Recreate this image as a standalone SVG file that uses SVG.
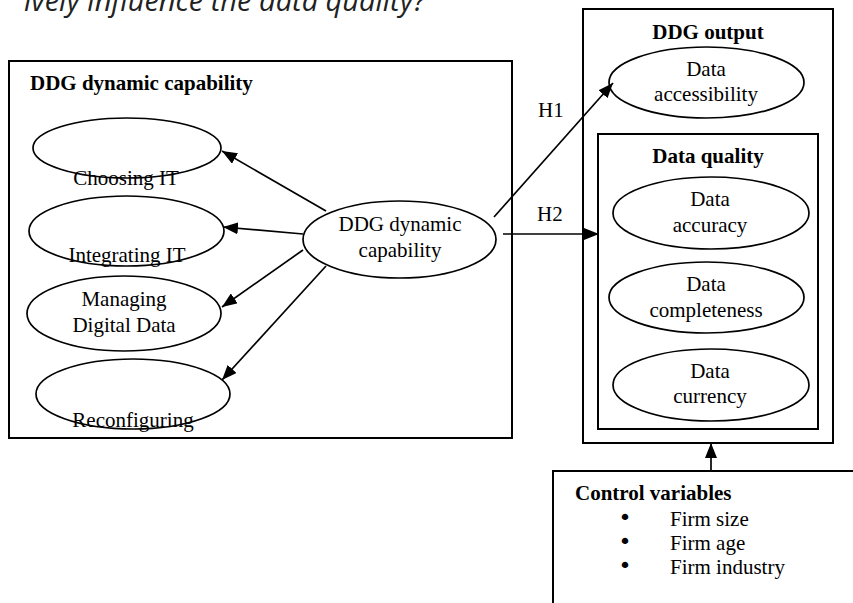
<svg xmlns="http://www.w3.org/2000/svg" width="853" height="603" viewBox="0 0 853 603">
<defs>
<marker id="arr" markerUnits="userSpaceOnUse" markerWidth="16" markerHeight="12" refX="15" refY="6" orient="auto">
<path d="M0,0 L15,6 L0,12 Z" fill="#000"/>
</marker>
<style>
.box{fill:none;stroke:#000;stroke-width:2}
.ell{fill:#fff;stroke:#000;stroke-width:1.7}
.t{font-family:"Liberation Serif","Times New Roman",serif;font-size:21px;fill:#000}
.b{font-weight:bold}
.c{text-anchor:middle}
.bul{font-family:"DejaVu Sans",sans-serif;font-size:22px;fill:#000}
.con{stroke:#000;stroke-width:1.7;fill:none;marker-end:url(#arr)}
</style>
</defs>
<rect width="853" height="603" fill="#fff"/>
<text x="24" y="11" style="font-family:'Open Sans','Noto Sans',sans-serif;font-style:italic;font-size:29px;fill:#222">ively influence the data quality?</text>

<g id="dyn-box">
<rect class="box" x="9" y="61" width="503" height="377"/>
<text class="t b" x="30" y="90">DDG dynamic capability</text>
</g>
<g id="choosing">
<ellipse class="ell" cx="127" cy="148" rx="94" ry="30"/>
<text class="t c" x="126" y="185">Choosing IT</text>
</g>
<g id="integrating">
<ellipse class="ell" cx="126.5" cy="231" rx="97.5" ry="35"/>
<text class="t c" x="127" y="262">Integrating IT</text>
</g>
<g id="managing">
<ellipse class="ell" cx="124" cy="313.5" rx="97" ry="37.5"/>
<text class="t c" x="124" y="306">Managing</text>
<text class="t c" x="124" y="332">Digital Data</text>
</g>
<g id="reconfiguring">
<ellipse class="ell" cx="133" cy="394" rx="97" ry="35"/>
<text class="t c" x="133" y="427">Reconfiguring</text>
</g>
<g id="ddg-center">
<ellipse class="ell" cx="399.5" cy="239.5" rx="96.5" ry="38.5"/>
<text class="t c" x="400" y="231">DDG dynamic</text>
<text class="t c" x="400" y="257">capability</text>
</g>

<g id="output-box">
<rect class="box" x="583" y="9" width="250" height="434"/>
<text class="t b c" x="708" y="39">DDG output</text>
</g>
<g id="accessibility">
<ellipse class="ell" cx="706.5" cy="82.5" rx="97.5" ry="35.5"/>
<text class="t c" x="706" y="76">Data</text>
<text class="t c" x="706" y="101">accessibility</text>
</g>
<g id="quality-box">
<rect class="box" x="598" y="134" width="220" height="295"/>
<text class="t b c" x="708" y="163">Data quality</text>
</g>
<g id="accuracy">
<ellipse class="ell" cx="711" cy="213" rx="98" ry="36"/>
<text class="t c" x="710" y="206">Data</text>
<text class="t c" x="710" y="232">accuracy</text>
</g>
<g id="completeness">
<ellipse class="ell" cx="706.5" cy="297.5" rx="97.5" ry="35.5"/>
<text class="t c" x="706" y="291">Data</text>
<text class="t c" x="706" y="317">completeness</text>
</g>
<g id="currency">
<ellipse class="ell" cx="711" cy="385" rx="98" ry="36"/>
<text class="t c" x="710" y="378">Data</text>
<text class="t c" x="710" y="403">currency</text>
</g>

<g id="control">
<rect class="box" x="553" y="471" width="320" height="150"/>
<text class="t b" x="575" y="500">Control variables</text>
<text class="bul c" x="625" y="525">•</text>
<text class="t" x="670" y="526">Firm size</text>
<text class="bul c" x="625" y="549">•</text>
<text class="t" x="670" y="550">Firm age</text>
<text class="bul c" x="625" y="573">•</text>
<text class="t" x="670" y="574">Firm industry</text>
</g>

<g id="connectors">
<line class="con" x1="326" y1="211" x2="222" y2="151"/>
<line class="con" x1="303" y1="234" x2="223" y2="227"/>
<line class="con" x1="303" y1="250" x2="222" y2="307"/>
<line class="con" x1="326" y1="266" x2="222" y2="380"/>
<line class="con" x1="494" y1="217" x2="613" y2="83"/>
<line class="con" x1="503" y1="234" x2="599" y2="234"/>
<line class="con" x1="711" y1="471" x2="711" y2="443"/>
<text class="t" x="538" y="117">H1</text>
<text class="t" x="537" y="221">H2</text>
</g>
</svg>
